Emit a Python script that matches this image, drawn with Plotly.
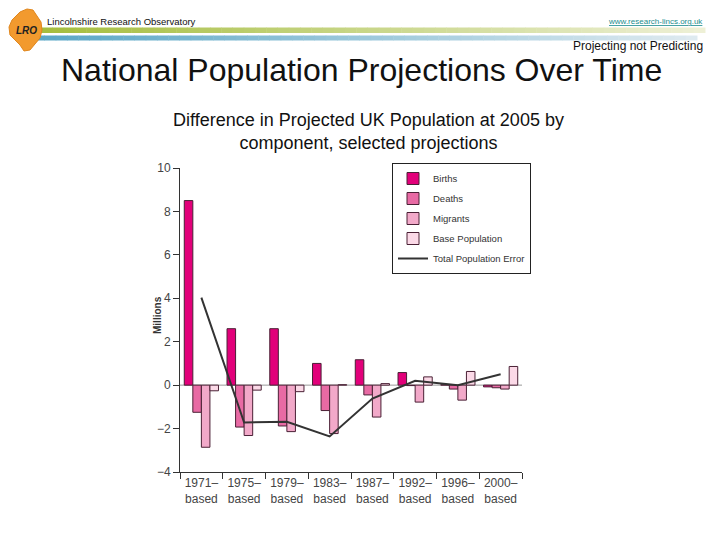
import plotly.graph_objects as go

categories = ["1971–<br>based", "1975–<br>based", "1979–<br>based", "1983–<br>based",
              "1987–<br>based", "1992–<br>based", "1996–<br>based", "2000–<br>based"]
births = [8.5, 2.6, 2.6, 1.0, 1.17, 0.58, 0.02, -0.08]
deaths = [-1.25, -1.93, -1.88, -1.17, -0.45, -0.02, -0.18, -0.12]
migrants = [-2.86, -2.32, -2.14, -2.23, -1.47, -0.78, -0.69, -0.18]
base_pop = [-0.26, -0.23, -0.3, 0.02, 0.07, 0.38, 0.63, 0.86]
total_error = [4.03, -1.72, -1.69, -2.36, -0.62, 0.2, 0.0, 0.5]

series = [("Births", births, "#e2007a"),
          ("Deaths", deaths, "#e86aa4"),
          ("Migrants", migrants, "#f2a9c9"),
          ("Base Population", base_pop, "#fbd9e7")]

FONT = "Liberation Sans, Arial"

# plot area in pixels
L, R, T, B = 180, 522, 168, 472
W, H = R - L, B - T


def px(x):
    return (x - L) / W


def py(y):
    return (B - y) / H


fig = go.Figure()
for i, (name, vals, col) in enumerate(series):
    fig.add_trace(go.Bar(x=categories, y=vals, name=name, legendgroup=name,
                         marker=dict(color=col, line=dict(color="#4a2035", width=1))))
fig.add_trace(go.Scatter(x=categories, y=total_error, name="Total Population Error",
                         legendgroup="tot", mode="lines",
                         line=dict(color="#333333", width=2)))

shapes = []
# gradient header bars
n = 60
def lerp(c1, c2, t):
    return "rgb(%d,%d,%d)" % tuple(int(c1[k] + (c2[k] - c1[k]) * t) for k in range(3))

for k in range(n):
    x0 = 30 + (705 - 30) * k / n
    x1 = 30 + (705 - 30) * (k + 1) / n + 0.5
    t = k / (n - 1)
    shapes.append(dict(type="rect", xref="paper", yref="paper", x0=px(x0), x1=px(x1),
                       y0=py(33), y1=py(27.5), line=dict(width=0),
                       fillcolor=lerp((164, 189, 60), (238, 240, 214), t), layer="below"))
    shapes.append(dict(type="rect", xref="paper", yref="paper", x0=px(x0 - 8), x1=px(x1 - 8),
                       y0=py(40.5), y1=py(35.5), line=dict(width=0),
                       fillcolor=lerp((88, 166, 198), (222, 234, 240), t), layer="below"))

# logo blob
pts = [(20, 12), (27, 9), (33, 10), (37, 16), (41, 22), (42, 30), (40, 38), (35, 44),
       (30, 50), (24, 51), (20, 45), (15, 40), (10, 35), (9, 27), (12, 20)]
path = "M " + " L ".join("%.4f,%.4f" % (px(a), py(b)) for a, b in pts) + " Z"
shapes.append(dict(type="path", xref="paper", yref="paper", path=path,
                   fillcolor="#f29a2e", line=dict(color="#e0861c", width=1)))

# zero line
shapes.append(dict(type="line", xref="paper", yref="y", x0=0, x1=1, y0=0, y1=0,
                   line=dict(color="#9a9a9a", width=1), layer="below"))

annotations = [
    dict(text="<i><b>LRO</b></i>", x=px(26), y=py(30), font=dict(size=10, color="#222")),
    dict(text="Lincolnshire Research Observatory", x=px(45), y=py(22), xanchor="left",
         font=dict(size=9.5, color="#111")),
    dict(text="<u>www.research-lincs.org.uk</u>", x=px(705), y=py(22), xanchor="right",
         font=dict(size=8, color="#1a8c8c")),
    dict(text="Projecting not Predicting", x=px(704), y=py(46), xanchor="right",
         font=dict(size=12, color="#111"), borderpad=0),
    dict(text="National Population Projections Over Time", x=px(361), y=py(70),
         font=dict(size=32, color="#111"), borderpad=0),
    dict(text="Difference in Projected UK Population at 2005 by<br>component, selected projections",
         x=px(368), y=py(131), font=dict(size=18, color="#111")),
    dict(text="<b>Millions</b>", x=px(157), y=py(315), textangle=-90,
         font=dict(size=10, color="#333")),
]
for a in annotations:
    a.setdefault("xref", "paper")
    a.setdefault("yref", "paper")
    a.setdefault("showarrow", False)
    a.setdefault("xanchor", "center")
    a.setdefault("yanchor", "middle")

fig.update_layout(
    width=720, height=540,
    margin=dict(l=L, r=720 - R, t=T, b=540 - B),
    paper_bgcolor="white", plot_bgcolor="white",
    font=dict(family=FONT, color="#444"),
    barmode="group", bargap=0.2, bargroupgap=0,
    showlegend=True,
    legend=dict(x=px(392), y=py(163), xanchor="left", yanchor="top",
                bordercolor="#222", borderwidth=1, bgcolor="white",
                font=dict(size=9.5, color="#333"), tracegroupgap=1,
                itemwidth=30),
    shapes=shapes, annotations=annotations,
    xaxis=dict(showgrid=False, showline=True, linecolor="#333", linewidth=1,
               ticks="outside", ticklen=6, tickcolor="#333", tickson="boundaries",
               tickangle=0, tickfont=dict(size=12, color="#444")),
    yaxis=dict(range=[-4, 10], dtick=2, showgrid=False, zeroline=False,
               showline=True, linecolor="#333", linewidth=1,
               ticks="outside", ticklen=6, tickcolor="#333",
               tickfont=dict(size=12, color="#444")),
)

fig.write_html("out.html")
